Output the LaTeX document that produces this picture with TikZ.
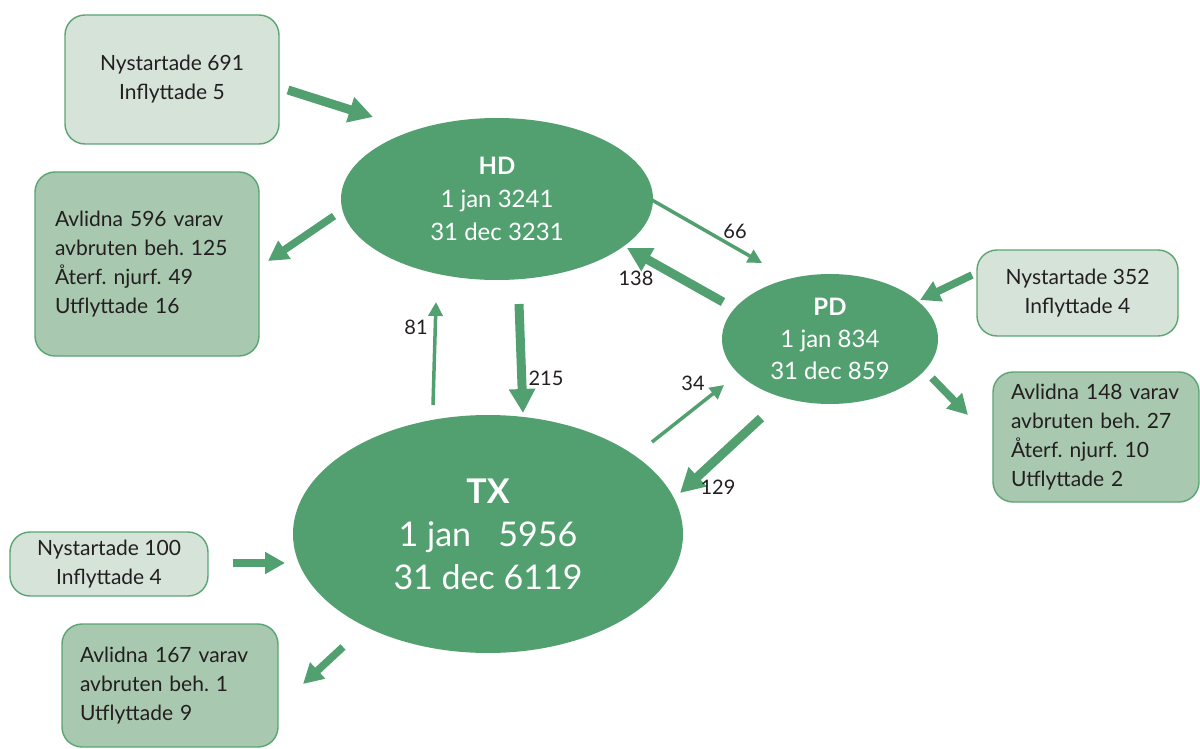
\documentclass[tikz,border=0pt]{standalone}
\usepackage{fontspec}
\setmainfont{Lato}
\usetikzlibrary{arrows.meta,shapes.geometric}
\definecolor{gfill}{HTML}{52A070}
\definecolor{gborder}{HTML}{5BA574}
\definecolor{lightbox}{HTML}{D6E3D8}
\definecolor{darkbox}{HTML}{A8C8AF}
\definecolor{ink}{HTML}{231F20}
\frenchspacing
\tikzset{
  oval/.style={ellipse, fill=gfill, draw=none, inner sep=0pt, text=white, align=center},
  inbox/.style={rectangle, rounded corners=20pt, draw=gborder, line width=1.4pt, fill=lightbox,
    text=ink, align=center, inner sep=0pt, font=\fontsize{21}{29}\selectfont},
  outbox/.style={rectangle, rounded corners=20pt, draw=gborder, line width=1.4pt, fill=darkbox,
    text=ink, align=left, inner ysep=0pt, font=\fontsize{21}{29}\selectfont},
  thickarrow/.style={draw=gfill, line width=9pt, -{Triangle[width=25pt,length=24pt]}},
  medarrow/.style={draw=gfill, line width=7.5pt, -{Triangle[width=21pt,length=20pt]}},
  thinarrow/.style={draw=gfill, line width=3.5pt, -{Triangle[width=14pt,length=14pt]}},
  flowlabel/.style={text=ink, font=\fontsize{20}{22}\selectfont, inner sep=0pt}
}
\begin{document}
\begin{tikzpicture}[x=1pt,y=-1pt]
\useasboundingbox (0,0) rectangle (1200,749);

% ellipses
\node[oval, minimum width=312pt, minimum height=162pt, font=\fontsize{24}{33}\selectfont] (HD) at (497,199)
  {\textbf{HD}\\1 jan 3241\\31 dec 3231};
\node[oval, minimum width=216pt, minimum height=130pt, font=\fontsize{24}{32}\selectfont] (PD) at (830,339)
  {\textbf{PD}\\1 jan 834\\31 dec 859};
\node[oval, minimum width=390pt, minimum height=238pt, font=\fontsize{34}{43}\selectfont] (TX) at (488,534)
  {\textbf{TX}\\1 jan\hspace{0.8em}5956\\31 dec 6119};

% boxes
\node[inbox, minimum width=214pt, minimum height=129pt] (A) at (172,79.5) {Nystartade 691\\Inflyttade 5};
\node[outbox, minimum width=224pt, minimum height=184pt, inner xsep=20pt, text width=184pt] (B) at (147,264)
  {Avlidna 596 varav\\avbruten beh. 125\\Återf. njurf. 49\\Utflyttade 16};
\node[inbox, minimum width=201pt, minimum height=86pt] (C) at (1077.5,293) {Nystartade 352\\Inflyttade 4};
\node[outbox, minimum width=206pt, minimum height=130pt, inner xsep=18pt, text width=170pt] (D) at (1096,437)
  {Avlidna 148 varav\\avbruten beh. 27\\Återf. njurf. 10\\Utflyttade 2};
\node[inbox, minimum width=198pt, minimum height=64pt] (E) at (109,564) {Nystartade 100\\Inflyttade 4};
\node[outbox, minimum width=216pt, minimum height=123pt, inner xsep=18pt, text width=180pt] (F) at (170,685.5)
  {Avlidna 167 varav\\avbruten beh. 1\\Utflyttade 9};

% arrow end points
\coordinate (a1) at (288,90);   \coordinate (a2) at (373,117);
\coordinate (b1) at (334,216);  \coordinate (b2) at (268,261);
\coordinate (hp1) at (652,200); \coordinate (hp2) at (762,263);
\coordinate (ph1) at (723,302); \coordinate (ph2) at (627,248);
\coordinate (ht1) at (519,304); \coordinate (ht2) at (523,413);
\coordinate (th1) at (433,405); \coordinate (th2) at (436,302);
\coordinate (tp1) at (652,442); \coordinate (tp2) at (724,385);
\coordinate (pt1) at (761,418); \coordinate (pt2) at (680,493);
\coordinate (c1) at (972,275);  \coordinate (c2) at (920,300);
\coordinate (d1) at (932,378);  \coordinate (d2) at (968,415);
\coordinate (e1) at (233,563);  \coordinate (e2) at (285,563);
\coordinate (f1) at (343,647);  \coordinate (f2) at (303,684);

% arrows
\draw[thickarrow] (a1) -- (a2);
\draw[medarrow] (b1) -- (b2);
\draw[thinarrow] (hp1) -- (hp2);
\draw[thickarrow] (ph1) -- (ph2);
\draw[thickarrow] (ht1) -- (ht2);
\draw[thinarrow] (th1) -- (th2);
\draw[thinarrow] (tp1) -- (tp2);
\draw[thickarrow] (pt1) -- (pt2);
\draw[medarrow] (c1) -- (c2);
\draw[medarrow] (d1) -- (d2);
\draw[medarrow] (e1) -- (e2);
\draw[medarrow] (f1) -- (f2);

% labels
\node[flowlabel] (l66) at (735,231) {66};
\node[flowlabel] (l138) at (636,278) {138};
\node[flowlabel] (l215) at (546,378) {215};
\node[flowlabel] (l81) at (416,327) {81};
\node[flowlabel] (l34) at (693,383) {34};
\node[flowlabel] (l129) at (718,487) {129};
\end{tikzpicture}
\end{document}
